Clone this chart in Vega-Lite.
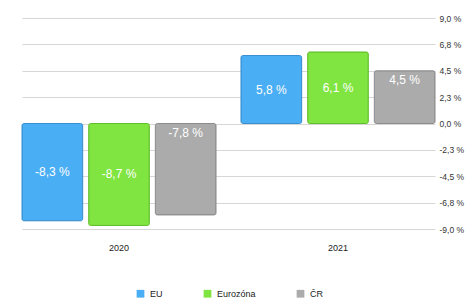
{
  "$schema": "https://vega.github.io/schema/vega-lite/v6.json",
  "width": 413,
  "height": 211,
  "autosize": {"type": "none"},
  "padding": {"left": 22, "top": 18, "right": 33, "bottom": 73},
  "background": "white",
  "data": {
    "values": [
      {"year": "2020", "series": "EU", "value": -8.3},
      {"year": "2020", "series": "Eurozóna", "value": -8.7},
      {"year": "2020", "series": "ČR", "value": -7.8},
      {"year": "2021", "series": "EU", "value": 5.8},
      {"year": "2021", "series": "Eurozóna", "value": 6.1},
      {"year": "2021", "series": "ČR", "value": 4.5}
    ]
  },
  "transform": [
    {"calculate": "replace(replace(format(datum.value, '.1f'), '.', ','), '−', '-') + ' %'", "as": "label"}
  ],
  "encoding": {
    "x": {
      "field": "year", "type": "nominal",
      "scale": {"paddingInner": 0.114, "paddingOuter": 0},
      "axis": {"title": null, "labelAngle": 0, "domain": false, "ticks": false, "labelPadding": 14, "labelFontSize": 9, "labelColor": "#222", "labelFont": "Liberation Sans, sans-serif"}
    },
    "xOffset": {
      "field": "series", "type": "nominal",
      "sort": ["EU", "Eurozóna", "ČR"],
      "scale": {"domain": ["EU", "Eurozóna", "ČR"], "paddingInner": 0.09, "paddingOuter": 0}
    }
  },
  "layer": [
    {
      "mark": {"type": "bar", "cornerRadius": 2, "strokeWidth": 1},
      "encoding": {
        "y": {
          "field": "value", "type": "quantitative",
          "scale": {"domain": [-9, 9], "nice": false, "zero": false},
          "axis": {
            "orient": "right", "title": null,
            "values": [-9, -6.75, -4.5, -2.25, 0, 2.25, 4.5, 6.75, 9],
            "labelExpr": "replace(replace(format(datum.value, '.1f'), '.', ','), '−', '-') + ' %'",
            "labelOverlap": false,
            "domain": false, "ticks": false, "grid": true,
            "gridColor": "#d6d6d6", "gridWidth": 1,
            "labelPadding": 4, "labelFontSize": 8.5, "labelColor": "#333",
            "labelFont": "Liberation Sans, sans-serif"
          }
        },
        "color": {
          "field": "series", "type": "nominal",
          "scale": {"domain": ["EU", "Eurozóna", "ČR"], "range": ["#4aaef4", "#80e441", "#ababab"]},
          "legend": {
            "title": null, "orient": "none", "direction": "horizontal",
            "legendX": 114, "legendY": 271,
            "symbolType": "square", "symbolSize": 60, "symbolStrokeWidth": 0,
            "labelFontSize": 9, "labelColor": "#222", "labelOffset": 5,
            "columnPadding": 40,
            "labelFont": "Liberation Sans, sans-serif"
          }
        },
        "stroke": {
          "field": "series", "type": "nominal",
          "scale": {"domain": ["EU", "Eurozóna", "ČR"], "range": ["#3a8fd0", "#62bf2c", "#8c8c8c"]},
          "legend": null
        }
      }
    },
    {
      "transform": [
        {"filter": "datum.series !== 'ČR'"},
        {"calculate": "datum.value / 2", "as": "mid"}
      ],
      "mark": {"type": "text", "color": "white", "fontSize": 12, "font": "Liberation Sans, sans-serif", "baseline": "middle"},
      "encoding": {
        "y": {
          "field": "mid", "type": "quantitative",
          "axis": {
            "orient": "right", "title": null,
            "values": [-9, -6.75, -4.5, -2.25, 0, 2.25, 4.5, 6.75, 9],
            "labelExpr": "replace(replace(format(datum.value, '.1f'), '.', ','), '−', '-') + ' %'",
            "labelOverlap": false,
            "domain": false, "ticks": false, "grid": true,
            "gridColor": "#d6d6d6", "gridWidth": 1,
            "labelPadding": 4, "labelFontSize": 8.5, "labelColor": "#333",
            "labelFont": "Liberation Sans, sans-serif"
          }
        },
        "text": {"field": "label"}
      }
    },
    {
      "transform": [
        {"filter": "datum.series === 'ČR'"},
        {"calculate": "max(datum.value, 0)", "as": "top"}
      ],
      "mark": {"type": "text", "color": "white", "fontSize": 12, "font": "Liberation Sans, sans-serif", "baseline": "top", "dy": 4},
      "encoding": {
        "y": {
          "field": "top", "type": "quantitative",
          "axis": {
            "orient": "right", "title": null,
            "values": [-9, -6.75, -4.5, -2.25, 0, 2.25, 4.5, 6.75, 9],
            "labelExpr": "replace(replace(format(datum.value, '.1f'), '.', ','), '−', '-') + ' %'",
            "labelOverlap": false,
            "domain": false, "ticks": false, "grid": true,
            "gridColor": "#d6d6d6", "gridWidth": 1,
            "labelPadding": 4, "labelFontSize": 8.5, "labelColor": "#333",
            "labelFont": "Liberation Sans, sans-serif"
          }
        },
        "text": {"field": "label"}
      }
    }
  ],
  "config": {"view": {"stroke": null}}
}
